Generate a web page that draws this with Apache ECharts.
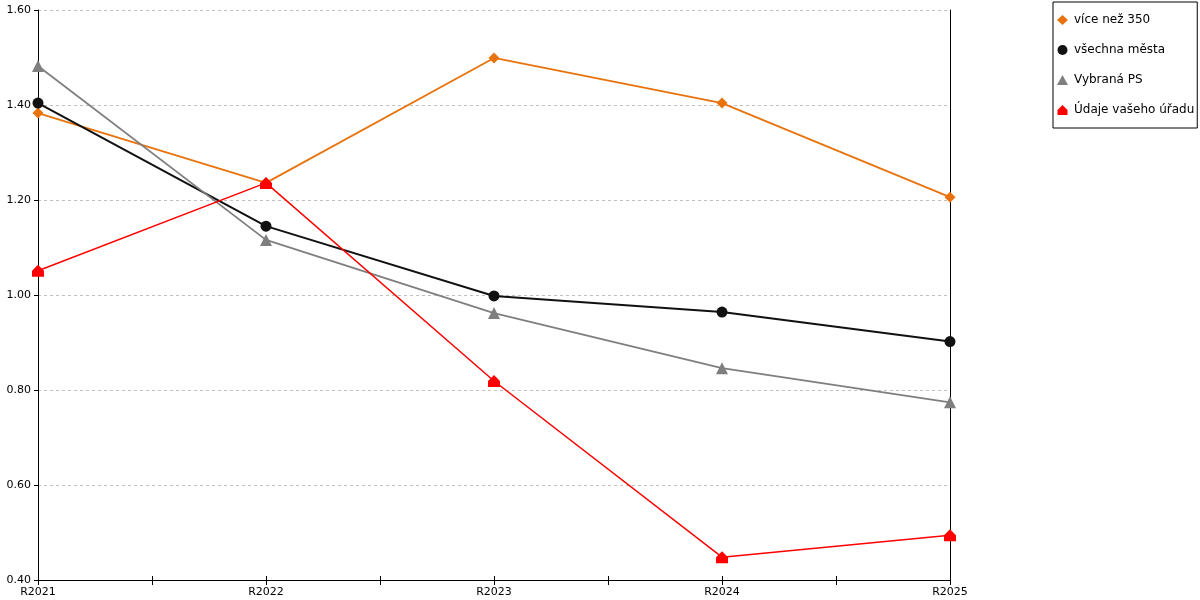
<!DOCTYPE html>
<html>
<head>
<meta charset="utf-8">
<script src="https://cdn.jsdelivr.net/npm/echarts@6/dist/echarts.min.js"></script>
<style>
  html, body { margin: 0; padding: 0; background: #fff; }
  #main { width: 1200px; height: 600px; }
</style>
</head>
<body>
<div id="main"></div>
<script>
// data
var categories = ["R2021", "R2022", "R2023", "R2024", "R2025"];
var viceNez350 = [1.383, 1.236, 1.499, 1.404, 1.206];
var vsechnaMesta = [1.404, 1.145, 0.998, 0.964, 0.902];
var vybranaPS = [1.482, 1.116, 0.962, 0.846, 0.774];
var udajeUradu = [1.051, 1.236, 0.819, 0.448, 0.494];
var seriesNames = ["více než 350", "všechna města", "Vybraná PS", "Údaje vašeho úřadu"];

var housePath = 'path://M0,5 L5,0 L10,5 L10,10 L0,10 Z';
var font = 'DejaVu Sans';

var myChart = echarts.init(document.getElementById('main'));

function line(name, data, color, symbol, size, width) {
    return {
        name: name,
        type: 'line',
        data: data,
        symbol: symbol,
        symbolSize: size,
        showAllSymbol: true,
        itemStyle: { color: color },
        lineStyle: { color: color, width: width },
        emphasis: { disabled: true },
        animation: false
    };
}

var option = {
    backgroundColor: '#ffffff',
    textStyle: { fontFamily: font },
    grid: { left: 38, right: 250, top: 10, bottom: 20 },
    legend: {
        orient: 'vertical',
        left: 1053,
        top: 2,
        padding: [12, 3, 12, 4],
        itemGap: 18,
        itemWidth: 11,
        itemHeight: 10,
        borderColor: '#000',
        borderWidth: 1,
        textStyle: { fontFamily: font, fontSize: 12, color: '#000', padding: [0, 0, 0, 1] },
        data: [
            { name: seriesNames[0], icon: 'diamond' },
            { name: seriesNames[1], icon: 'circle' },
            { name: seriesNames[2], icon: 'triangle' },
            { name: seriesNames[3], icon: housePath }
        ]
    },
    xAxis: [{
        type: 'category',
        data: categories,
        boundaryGap: false,
        axisLine: { lineStyle: { color: '#000', width: 1 } },
        axisTick: { show: false },
        axisLabel: { color: '#000', fontSize: 11, fontFamily: font, margin: 7 },
        splitLine: { show: false }
    }, {
        type: 'value',
        min: 0, max: 4, interval: 0.5,
        position: 'bottom',
        axisLine: { show: false },
        axisTick: { show: true, inside: true, length: 4, lineStyle: { color: '#000' } },
        axisLabel: { show: false },
        splitLine: { show: false }
    }, {
        type: 'value',
        min: 0, max: 4, interval: 0.5,
        position: 'bottom',
        axisLine: { show: false },
        axisTick: { show: true, length: 5, lineStyle: { color: '#000' } },
        axisLabel: { show: false },
        splitLine: { show: false }
    }],
    yAxis: [{
        type: 'value',
        min: 0.4, max: 1.6, interval: 0.2,
        axisLine: { show: true, onZero: false, lineStyle: { color: '#000', width: 1 } },
        axisTick: { show: true, length: 4, lineStyle: { color: '#000' } },
        axisLabel: {
            color: '#000', fontSize: 11, fontFamily: font, margin: 7,
            formatter: function (v) { return v.toFixed(2); }
        },
        splitLine: { show: true, lineStyle: { color: '#c0c0c0', type: [3, 3], width: 1 } }
    }, {
        type: 'value',
        min: 0.4, max: 1.6, interval: 0.2,
        position: 'right',
        axisLine: { show: true, onZero: false, lineStyle: { color: '#000', width: 1 } },
        axisTick: { show: false },
        axisLabel: { show: false },
        splitLine: { show: false }
    }],
    series: [
        line(seriesNames[0], viceNez350, '#e8730c', 'diamond', 11, 1.8),
        line(seriesNames[1], vsechnaMesta, '#111111', 'circle', 11, 2),
        line(seriesNames[2], vybranaPS, '#7f7f7f', 'triangle', 12, 1.8),
        line(seriesNames[3], udajeUradu, '#ff0000', housePath, 12, 1.5)
    ]
};
myChart.setOption(option);
</script>
</body>
</html>
